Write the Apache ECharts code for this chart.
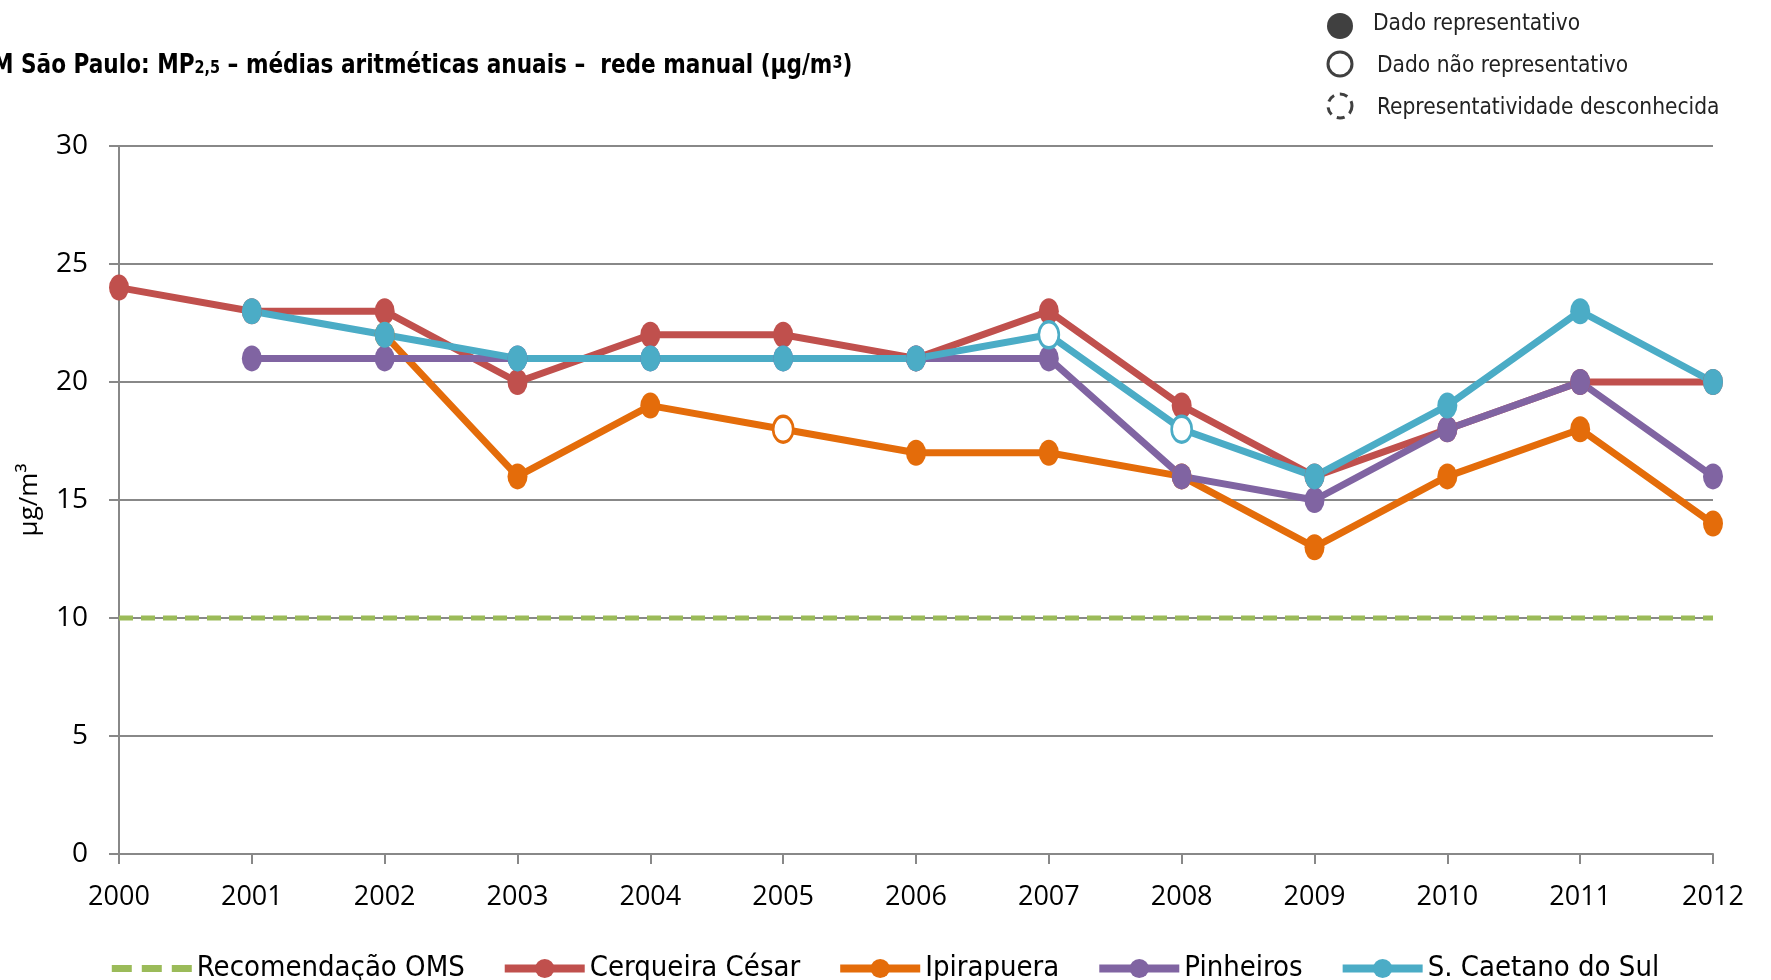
<!DOCTYPE html>
<html><head><meta charset="utf-8">
<script src="https://cdn.jsdelivr.net/npm/echarts@6/dist/echarts.min.js"></script>
<style>html,body{margin:0;padding:0;background:#fff}#c{width:1771px;height:980px}</style>
</head><body><div id="c"></div>
<script>
const years = ['2000','2001','2002','2003','2004','2005','2006','2007','2008','2009','2010','2011','2012'];
const oms = [10,10,10,10,10,10,10,10,10,10,10,10,10];
const cerqueira = [24,23,23,20,22,22,21,23,19,16,18,20,20];
const ipirapuera = [null,null,22,16,19,18,17,17,16,13,16,18,14];
const pinheiros = [null,21,21,21,21,21,21,21,16,15,18,20,16];
const caetano = [null,23,22,21,21,21,21,22,18,16,19,23,20];
// indices of non-representative (hollow) points
const ipirapueraHollow = [5];
const caetanoHollow = [7,8];

const FONT = "'DejaVu Sans Condensed', 'Roboto Condensed', Roboto, sans-serif";
const TICKFONT = "'Open Sans', sans-serif";
const chart = echarts.init(document.getElementById('c'));

function mk(name, data, color, hollow) {
  hollow = hollow || [];
  return {
    name, type: 'line', data: data.map((v,i)=> hollow.includes(i) ?
      {value: v, itemStyle: {color: '#fff', borderColor: color, borderWidth: 3}} : v),
    symbol: 'circle', symbolSize: [20,26], showSymbol: true, connectNulls: false,
    lineStyle: {color, width: 7}, itemStyle: {color},
    emphasis: {disabled: true}, animation: false
  };
}

chart.setOption({
  animation: false,
  grid: {left: 119, right: 58, top: 146, bottom: 126},
  xAxis: {
    type: 'category', data: years, boundaryGap: false,
    axisLine: {lineStyle: {color: '#888', width: 2}},
    axisTick: {show: true, length: 10, lineStyle: {color: '#888', width: 2}},
    axisLabel: {fontSize: 27, color: '#000', margin: 30, fontFamily: TICKFONT}
  },
  yAxis: {
    type: 'value', min: 0, max: 30, interval: 5,
    name: 'µg/m³', nameLocation: 'middle', nameGap: 76, nameRotate: 90,
    nameTextStyle: {fontSize: 26, color: '#000', fontFamily: TICKFONT},
    axisLine: {show: true, lineStyle: {color: '#888', width: 2}},
    axisTick: {show: true, length: 10, lineStyle: {color: '#888', width: 2}},
    splitLine: {lineStyle: {color: '#888', width: 2}},
    axisLabel: {fontSize: 28, color: '#000', margin: 31, fontFamily: TICKFONT}
  },
  legend: {
    bottom: -8, left: 'center', itemWidth: 80, itemHeight: 24, itemGap: 36,
    textStyle: {fontSize: 29, color: '#000', fontFamily: FONT},
    lineStyle: {width: 8},
    data: [
      {name: 'Recomendação OMS', icon: 'path://M0,0h20v7h-20z M30,0h20v7h-20z M60,0h20v7h-20z',
       itemStyle: {color: '#9BBB59'}},
      'Cerqueira César','Ipirapuera','Pinheiros','S. Caetano do Sul']
  },
  series: [
    {name: 'Recomendação OMS', type: 'line', data: oms, symbol: 'none',
     lineStyle: {color: '#9BBB59', width: 5, type: [14,8]}, itemStyle: {color: '#9BBB59'},
     emphasis: {disabled: true}},
    mk('Cerqueira César', cerqueira, '#C0504D'),
    mk('Ipirapuera', ipirapuera, '#E46C0A', ipirapueraHollow),
    mk('Pinheiros', pinheiros, '#8064A2'),
    mk('S. Caetano do Sul', caetano, '#4BACC6', caetanoHollow)
  ],
  graphic: [
    {type: 'text', x: -8, y: 52, scaleX: 0.89, originX: 0, originY: 0, style: {
      text: '{b|M São Paulo: MP}{s|2,5}{b| – médias aritméticas anuais –  rede manual (µg/m}{t|3}{b|)}',
      rich: {b: {fontSize: 27, fontWeight: 'bold', fontFamily: FONT, fill: '#000'},
             s: {fontSize: 18, fontWeight: 'bold', fontFamily: FONT, fill: '#000', padding: [6,0,0,0]},
             t: {fontSize: 18, fontWeight: 'bold', fontFamily: FONT, fill: '#000', padding: [0,0,4,0]}}
    }},
    {type: 'circle', shape: {cx: 1340, cy: 26, r: 13}, style: {fill: '#404040'}},
    {type: 'text', left: 1373, top: 13, style: {text: 'Dado representativo', fontSize: 22.5, fontFamily: FONT, fill: '#222'}},
    {type: 'circle', shape: {cx: 1340, cy: 64, r: 12}, style: {fill: '#fff', stroke: '#404040', lineWidth: 3}},
    {type: 'text', left: 1377, top: 55, style: {text: 'Dado não representativo', fontSize: 22.5, fontFamily: FONT, fill: '#222'}},
    {type: 'circle', shape: {cx: 1340, cy: 106, r: 12}, style: {fill: '#fff', stroke: '#404040', lineWidth: 3, lineDash: [8,6]}},
    {type: 'text', left: 1377, top: 97, style: {text: 'Representatividade desconhecida', fontSize: 22.5, fontFamily: FONT, fill: '#222'}}
  ]
});
</script></body></html>
